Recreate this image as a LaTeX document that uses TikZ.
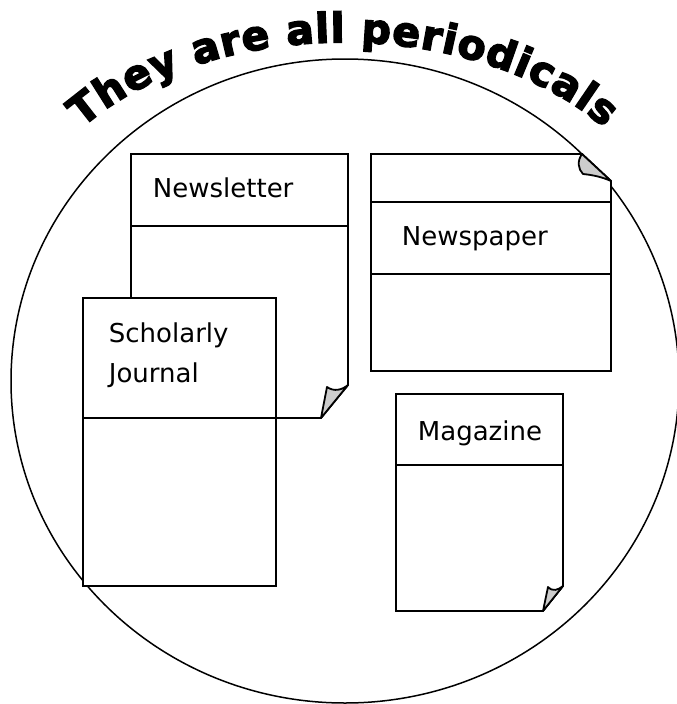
\documentclass[tikz,border=0pt]{standalone}
\usepackage{fontspec}
\setmainfont{DejaVu Sans}
\newfontfamily\titlefont{DejaVu Sans Bold}[FakeBold=3.5]
\usetikzlibrary{decorations.text}

\tikzset{
    page/.style={draw, fill=white},
    curl/.style={draw, fill=black!20, line join=round},
    pagetext/.style={anchor=base west, inner sep=0pt, font=\fontsize{26}{30}\selectfont}
}

\begin{document}
\begin{tikzpicture}[x=1pt, y=-1pt, line width=1.8pt]
        \useasboundingbox (0,0) rectangle (677,704);
        \draw [line width=1.5pt] (345,381) ellipse [x radius=334, y radius=322];
        % arched title
        \path [decorate, decoration={text along path, text align={fit to path},
            text format delimiters={|}{|},
            text={|\fontsize{41}{42}\titlefont|They are all periodicals}}]
            (82,128) arc [start angle=217, end angle=323, x radius=327, y radius=215];
        % Newsletter
        \draw [page] (131,154) -- (348,154) -- (348,385) -- (321,418) -- (131,418) -- cycle;
        \draw [curl] (321,418) -- (327,387) .. controls (334,392) and (342,390) .. (348,385) -- cycle;
        \draw (131,226) -- (348,226);
        \node [pagetext] (newsletter) at (152,197) {Newsletter};
        % Scholarly Journal
        \draw [page] (83,298) rectangle (276,586);
        \draw (83,418) -- (276,418);
        \node [pagetext] (scholarly) at (108,342) {Scholarly};
        \node [pagetext] (journal) at (108,382) {Journal};
        % Newspaper
        \draw [page] (371,154) -- (582,154) -- (611,181) -- (611,371) -- (371,371) -- cycle;
        \draw [curl] (582,154) .. controls (577,161) and (578,169) .. (583,174)
            .. controls (593,175) and (602,177) .. (611,181) -- cycle;
        \draw (371,202) -- (611,202);
        \draw (371,274) -- (611,274);
        \node [pagetext] (newspaper) at (401,245) {Newspaper};
        % Magazine
        \draw [page] (396,394) -- (563,394) -- (563,586) -- (543,611) -- (396,611) -- cycle;
        \draw [curl] (543,611) -- (548,587) .. controls (553,592) and (558,590) .. (563,586) -- cycle;
        \draw (396,465) -- (563,465);
        \node [pagetext] (magazine) at (417,440) {Magazine};
    \end{tikzpicture}
\end{document}
